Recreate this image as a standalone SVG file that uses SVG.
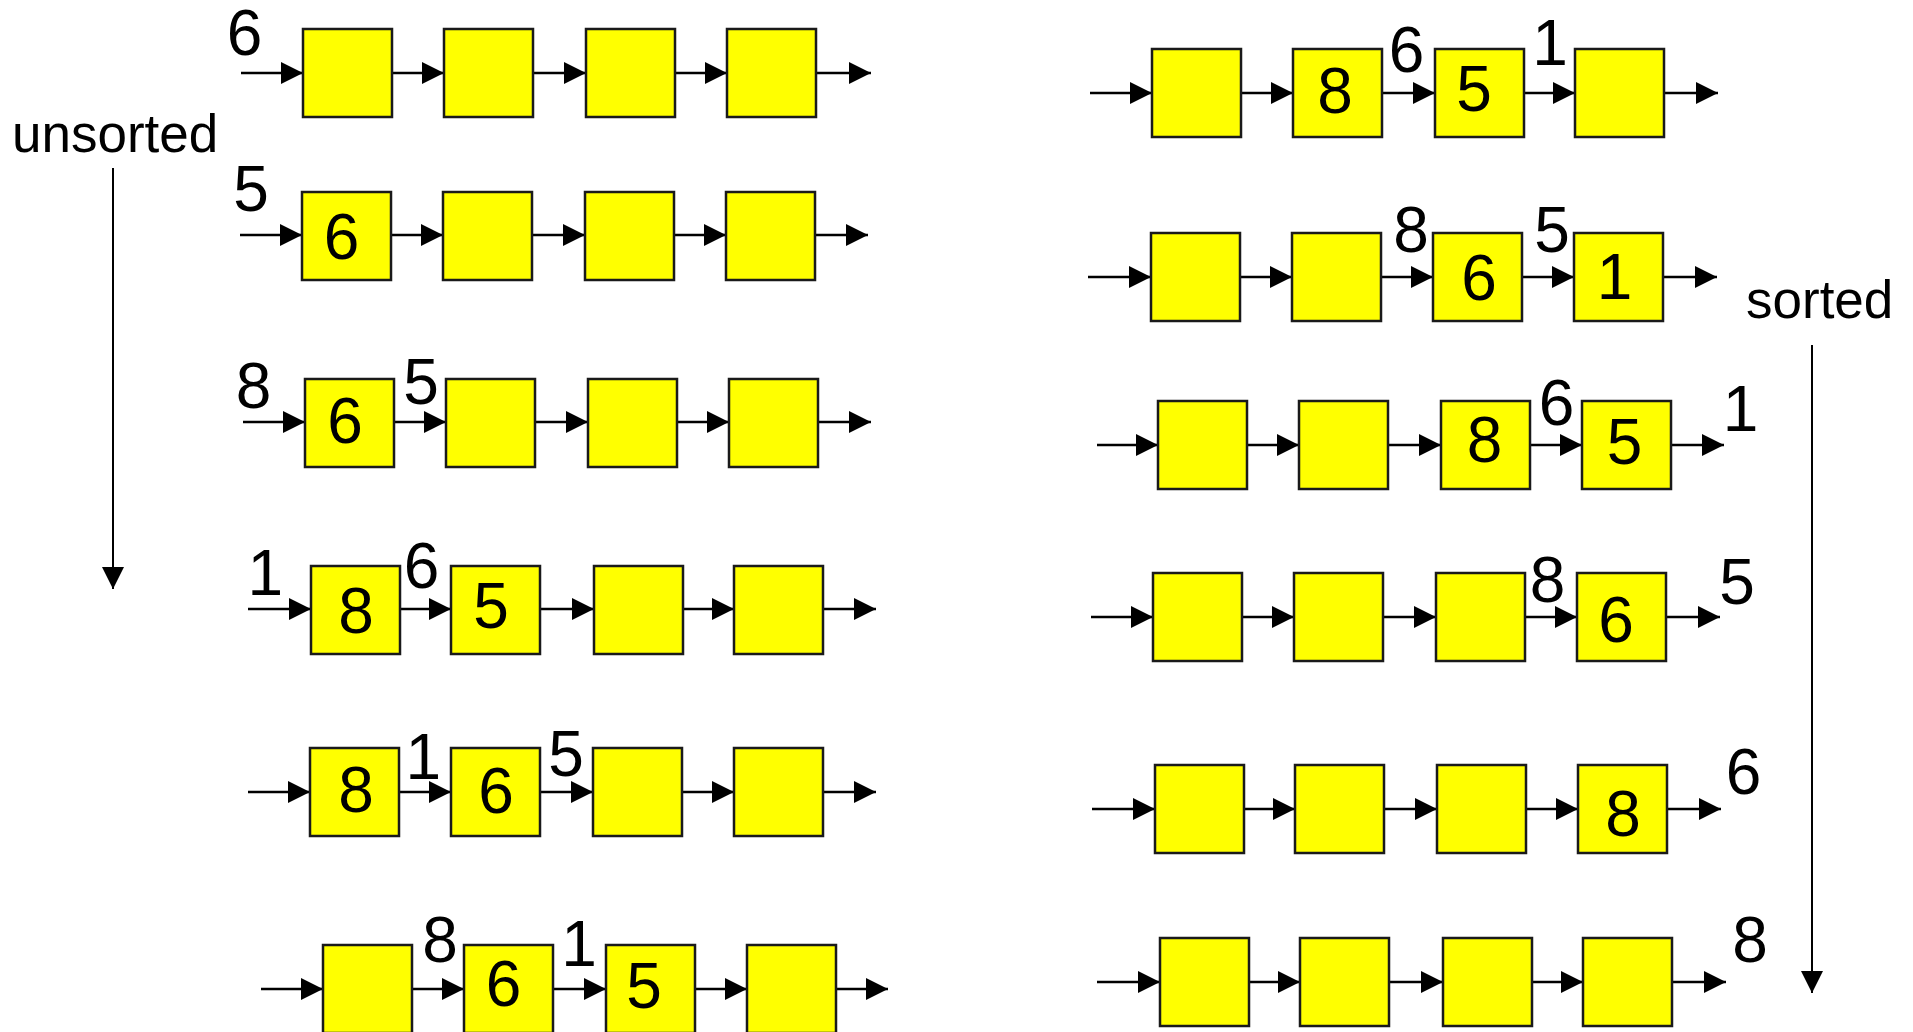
<svg xmlns="http://www.w3.org/2000/svg" width="1913" height="1032" viewBox="0 0 1913 1032">
<style>
.box{fill:#ffff00;stroke:#1a1a1a;stroke-width:2.5}
.num{font-family:"Liberation Sans",Arial,sans-serif;font-size:64px;fill:#000;text-anchor:middle}
.lbl{font-family:"Liberation Sans",Arial,sans-serif;font-size:53px;fill:#000}
.c{stroke:#000;stroke-width:2.5;fill:none;marker-end:url(#ah)}
.v{stroke:#000;stroke-width:2;fill:none;marker-end:url(#ah)}
</style>
<defs>
<marker id="ah" markerUnits="userSpaceOnUse" markerWidth="22" markerHeight="22" refX="22" refY="11" orient="auto"><path d="M0,0L22,11L0,22z" fill="#000"/></marker>
</defs>
<rect width="1913" height="1032" fill="#fff"/>

<g id="titles">
<text class="lbl" x="12" y="152">unsorted</text>
<text class="lbl" x="1746" y="318">sorted</text>
</g>

<g id="connectors">
<path class="v" d="M113 168V589"/>
<path class="v" d="M1812 345V993"/>
<path class="c" d="M241 73H303"/><path class="c" d="M392 73H444"/><path class="c" d="M533 73H586"/><path class="c" d="M675 73H727"/><path class="c" d="M816 73H871"/>
<path class="c" d="M240 235H302"/><path class="c" d="M391 235H443"/><path class="c" d="M532 235H585"/><path class="c" d="M674 235H726"/><path class="c" d="M815 235H868"/>
<path class="c" d="M243 422H305"/><path class="c" d="M394 422H446"/><path class="c" d="M535 422H588"/><path class="c" d="M677 422H729"/><path class="c" d="M818 422H871"/>
<path class="c" d="M248 609H311"/><path class="c" d="M400 609H451"/><path class="c" d="M540 609H594"/><path class="c" d="M683 609H734"/><path class="c" d="M823 609H876"/>
<path class="c" d="M248 792H310"/><path class="c" d="M399 792H451"/><path class="c" d="M540 792H593"/><path class="c" d="M682 792H734"/><path class="c" d="M823 792H876"/>
<path class="c" d="M261 989H323"/><path class="c" d="M412 989H464"/><path class="c" d="M553 989H606"/><path class="c" d="M695 989H747"/><path class="c" d="M836 989H888"/>
<path class="c" d="M1090 93H1152"/><path class="c" d="M1241 93H1293"/><path class="c" d="M1382 93H1435"/><path class="c" d="M1524 93H1575"/><path class="c" d="M1664 93H1718"/>
<path class="c" d="M1088 277H1151"/><path class="c" d="M1240 277H1292"/><path class="c" d="M1381 277H1433"/><path class="c" d="M1522 277H1574"/><path class="c" d="M1663 277H1717"/>
<path class="c" d="M1097 445H1158"/><path class="c" d="M1247 445H1299"/><path class="c" d="M1388 445H1441"/><path class="c" d="M1530 445H1582"/><path class="c" d="M1671 445H1724"/>
<path class="c" d="M1091 617H1153"/><path class="c" d="M1242 617H1294"/><path class="c" d="M1383 617H1436"/><path class="c" d="M1525 617H1577"/><path class="c" d="M1666 617H1720"/>
<path class="c" d="M1092 809H1155"/><path class="c" d="M1244 809H1295"/><path class="c" d="M1384 809H1437"/><path class="c" d="M1526 809H1578"/><path class="c" d="M1667 809H1721"/>
<path class="c" d="M1097 982H1160"/><path class="c" d="M1249 982H1300"/><path class="c" d="M1389 982H1443"/><path class="c" d="M1532 982H1583"/><path class="c" d="M1672 982H1726"/>
</g>

<g id="labels">
<text class="num" x="244.5" y="55">6</text>
<text class="num" x="251" y="211">5</text>
<text class="num" x="253.5" y="408">8</text><text class="num" x="421" y="404">5</text>
<text class="num" x="265.4" y="595">1</text><text class="num" x="421.5" y="588">6</text>
<text class="num" x="423.4" y="779">1</text><text class="num" x="566" y="776">5</text>
<text class="num" x="440" y="962">8</text><text class="num" x="579" y="966">1</text>
<text class="num" x="1406.5" y="72">6</text><text class="num" x="1550" y="65">1</text>
<text class="num" x="1411" y="252">8</text><text class="num" x="1552" y="252">5</text>
<text class="num" x="1556.5" y="425">6</text><text class="num" x="1740.5" y="431">1</text>
<text class="num" x="1547.5" y="602">8</text><text class="num" x="1737" y="604">5</text>
<text class="num" x="1743.5" y="794">6</text>
<text class="num" x="1750" y="962">8</text>
</g>

<g id="L1">
<g id="L1b1"><rect class="box" x="303" y="29" width="89" height="88"/></g>
<g id="L1b2"><rect class="box" x="444" y="29" width="89" height="88"/></g>
<g id="L1b3"><rect class="box" x="586" y="29" width="89" height="88"/></g>
<g id="L1b4"><rect class="box" x="727" y="29" width="89" height="88"/></g>
</g>
<g id="L2">
<g id="L2b1"><rect class="box" x="302" y="192" width="89" height="88"/><text class="num" x="341.5" y="259">6</text></g>
<g id="L2b2"><rect class="box" x="443" y="192" width="89" height="88"/></g>
<g id="L2b3"><rect class="box" x="585" y="192" width="89" height="88"/></g>
<g id="L2b4"><rect class="box" x="726" y="192" width="89" height="88"/></g>
</g>
<g id="L3">
<g id="L3b1"><rect class="box" x="305" y="379" width="89" height="88"/><text class="num" x="345" y="443">6</text></g>
<g id="L3b2"><rect class="box" x="446" y="379" width="89" height="88"/></g>
<g id="L3b3"><rect class="box" x="588" y="379" width="89" height="88"/></g>
<g id="L3b4"><rect class="box" x="729" y="379" width="89" height="88"/></g>
</g>
<g id="L4">
<g id="L4b1"><rect class="box" x="311" y="566" width="89" height="88"/><text class="num" x="356" y="633">8</text></g>
<g id="L4b2"><rect class="box" x="451" y="566" width="89" height="88"/><text class="num" x="491" y="628">5</text></g>
<g id="L4b3"><rect class="box" x="594" y="566" width="89" height="88"/></g>
<g id="L4b4"><rect class="box" x="734" y="566" width="89" height="88"/></g>
</g>
<g id="L5">
<g id="L5b1"><rect class="box" x="310" y="748" width="89" height="88"/><text class="num" x="356" y="812">8</text></g>
<g id="L5b2"><rect class="box" x="451" y="748" width="89" height="88"/><text class="num" x="496" y="813">6</text></g>
<g id="L5b3"><rect class="box" x="593" y="748" width="89" height="88"/></g>
<g id="L5b4"><rect class="box" x="734" y="748" width="89" height="88"/></g>
</g>
<g id="L6">
<g id="L6b1"><rect class="box" x="323" y="945" width="89" height="88"/></g>
<g id="L6b2"><rect class="box" x="464" y="945" width="89" height="88"/><text class="num" x="503.5" y="1006">6</text></g>
<g id="L6b3"><rect class="box" x="606" y="945" width="89" height="88"/><text class="num" x="644" y="1008">5</text></g>
<g id="L6b4"><rect class="box" x="747" y="945" width="89" height="88"/></g>
</g>

<g id="R1">
<g id="R1b1"><rect class="box" x="1152" y="49" width="89" height="88"/></g>
<g id="R1b2"><rect class="box" x="1293" y="49" width="89" height="88"/><text class="num" x="1335" y="113">8</text></g>
<g id="R1b3"><rect class="box" x="1435" y="49" width="89" height="88"/><text class="num" x="1474" y="111">5</text></g>
<g id="R1b4"><rect class="box" x="1575" y="49" width="89" height="88"/></g>
</g>
<g id="R2">
<g id="R2b1"><rect class="box" x="1151" y="233" width="89" height="88"/></g>
<g id="R2b2"><rect class="box" x="1292" y="233" width="89" height="88"/></g>
<g id="R2b3"><rect class="box" x="1433" y="233" width="89" height="88"/><text class="num" x="1479" y="300">6</text></g>
<g id="R2b4"><rect class="box" x="1574" y="233" width="89" height="88"/><text class="num" x="1614.5" y="299">1</text></g>
</g>
<g id="R3">
<g id="R3b1"><rect class="box" x="1158" y="401" width="89" height="88"/></g>
<g id="R3b2"><rect class="box" x="1299" y="401" width="89" height="88"/></g>
<g id="R3b3"><rect class="box" x="1441" y="401" width="89" height="88"/><text class="num" x="1484.5" y="462">8</text></g>
<g id="R3b4"><rect class="box" x="1582" y="401" width="89" height="88"/><text class="num" x="1624.5" y="464">5</text></g>
</g>
<g id="R4">
<g id="R4b1"><rect class="box" x="1153" y="573" width="89" height="88"/></g>
<g id="R4b2"><rect class="box" x="1294" y="573" width="89" height="88"/></g>
<g id="R4b3"><rect class="box" x="1436" y="573" width="89" height="88"/></g>
<g id="R4b4"><rect class="box" x="1577" y="573" width="89" height="88"/><text class="num" x="1616" y="642">6</text></g>
</g>
<g id="R5">
<g id="R5b1"><rect class="box" x="1155" y="765" width="89" height="88"/></g>
<g id="R5b2"><rect class="box" x="1295" y="765" width="89" height="88"/></g>
<g id="R5b3"><rect class="box" x="1437" y="765" width="89" height="88"/></g>
<g id="R5b4"><rect class="box" x="1578" y="765" width="89" height="88"/><text class="num" x="1623" y="836">8</text></g>
</g>
<g id="R6">
<g id="R6b1"><rect class="box" x="1160" y="938" width="89" height="88"/></g>
<g id="R6b2"><rect class="box" x="1300" y="938" width="89" height="88"/></g>
<g id="R6b3"><rect class="box" x="1443" y="938" width="89" height="88"/></g>
<g id="R6b4"><rect class="box" x="1583" y="938" width="89" height="88"/></g>
</g>
</svg>
